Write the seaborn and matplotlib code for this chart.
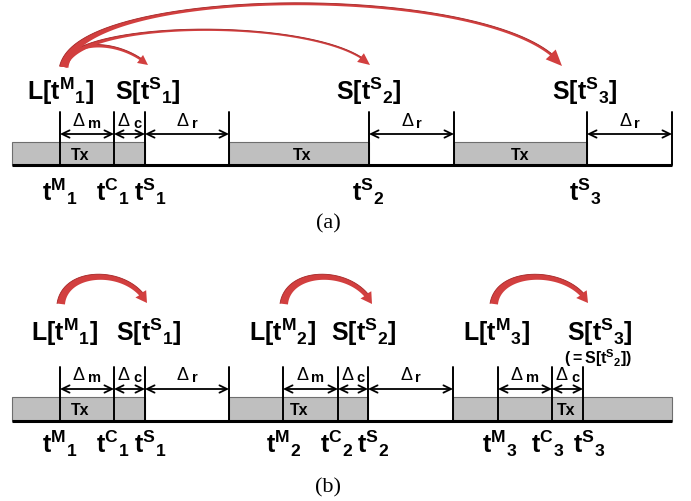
import numpy as np
import matplotlib
matplotlib.use("Agg")
import matplotlib.pyplot as plt
from matplotlib.patches import Rectangle, Polygon
import seaborn as sns

# ---------------------------------------------------------------------------
# Timeline data (horizontal positions on the time axis, in figure pixels)
# ---------------------------------------------------------------------------
AXIS_START, AXIS_END = 12, 672

# (a) one long transaction, several snapshots
a_busy = [(12, 145), (229, 369), (454, 587)]
a_marks = [60, 114, 145, 229, 369, 454, 587, 672]
a_spans = [(60, 114, "m"), (114, 145, "c"), (145, 229, "r"),
           (369, 454, "r"), (587, 672, "r")]
a_tx = [80, 302, 520]
a_times = [("M", "1", 60), ("C", "1", 113), ("S", "1", 150),
           ("S", "2", 368), ("S", "3", 585)]
a_states = [("L", "M", "1", 60), ("S", "S", "1", 148),
            ("S", "S", "2", 369), ("S", "S", "3", 585)]
a_jumps = [((64, 68), (148, 66), 47), ((64, 68), (370, 66), 31),
           ((64, 68), (562, 67), 5)]

# (b) one transaction per snapshot
b_busy = [(12, 145), (229, 368), (453, 672)]
b_marks = [60, 114, 145, 229, 283, 338, 368, 453, 498, 552, 583]
b_spans = [(60, 114, "m"), (114, 145, "c"), (145, 229, "r"),
           (283, 338, "m"), (338, 368, "c"), (368, 453, "r"),
           (498, 552, "m"), (552, 583, "c")]
b_tx = [80, 299, 566]
b_times = [("M", "1", 60), ("C", "1", 113), ("S", "1", 150),
           ("M", "2", 284), ("C", "2", 337), ("S", "2", 373),
           ("M", "3", 500), ("C", "3", 548), ("S", "3", 589)]
b_states = [("L", "M", "1", 64), ("S", "S", "1", 149),
            ("L", "M", "2", 282), ("S", "S", "2", 364),
            ("L", "M", "3", 496), ("S", "S", "3", 600)]
b_jumps = [((61, 305), (147, 304), 278), ((284, 305), (372, 305), 278),
           ((494, 305), (588, 304), 278)]

# ---------------------------------------------------------------------------
sns.set_theme(style="white")
plt.rcParams["font.family"] = ["Liberation Sans", "DejaVu Sans"]
plt.rcParams["text.color"] = "black"
plt.rcParams["mathtext.fontset"] = "custom"
plt.rcParams["mathtext.rm"] = "Liberation Sans:bold"
plt.rcParams["mathtext.it"] = "Liberation Sans:bold"
plt.rcParams["mathtext.bf"] = "Liberation Sans:bold"
plt.rcParams["mathtext.sf"] = "Liberation Sans"
plt.rcParams["mathtext.default"] = "rm"

RED = "#d23f3f"
GREY = "#bfbfbf"

fig = plt.figure(figsize=(6.91, 5.02), dpi=100)
ax = fig.add_axes([0, 0, 1, 1])
ax.set_xlim(0, 691)
ax.set_ylim(502, 0)
ax.axis("off")


def jump_arrow(p0, p3, peak, w0, w1, head_w, head_l, c1=0.04, c2=0.12, lam=45):
    """Curved arrow from p0 to p3 whose top reaches y=peak; the shaft
    starts w0 wide and thins towards w1 over a length scale lam."""
    x0, y0 = p0
    x3, y3 = p3
    dx = x3 - x0
    h = (8 * peak - y0 - y3) / 6.0
    P = np.array([[x0, y0], [x0 + c1 * dx, h], [x3 - c2 * dx, h], [x3, y3]], float)
    t = np.linspace(0, 1, 900)[:, None]
    B = ((1 - t) ** 3 * P[0] + 3 * (1 - t) ** 2 * t * P[1]
         + 3 * (1 - t) * t ** 2 * P[2] + t ** 3 * P[3])
    s = np.concatenate([[0], np.cumsum(np.hypot(*np.diff(B, axis=0).T))])
    keep = s <= s[-1] - head_l
    body = B[keep]
    tang = np.gradient(body, axis=0)
    tang /= np.linalg.norm(tang, axis=1)[:, None]
    nrm = np.stack([-tang[:, 1], tang[:, 0]], axis=1)
    w = (w1 + (w0 - w1) * np.exp(-s[keep] / lam))[:, None] / 2
    left = body + nrm * w
    right = body - nrm * w
    base = body[-1]
    d = P[3] - base
    d /= np.linalg.norm(d)
    n = np.array([-d[1], d[0]])
    pts = np.vstack([left, [base + n * head_w / 2], [P[3]],
                     [base - n * head_w / 2], right[::-1]])
    ax.add_patch(Polygon(pts, closed=True, facecolor=RED, edgecolor="none",
                         zorder=3))
    # darker lower rim for a little depth
    ax.plot(right[:, 0], right[:, 1], color="#a52626", lw=0.6, zorder=3)


def label_t(sup, sub):
    return "$t^{" + sup + "}{}_{" + sub + "}$"


def label_state(p, sup, sub):
    return "$" + p + "[t^{" + sup + "}{}_{" + sub + "}]$"


def draw_timeline(busy, marks, spans, tx, times, states, jumps,
                  bar_top, bar_bot, mark_top, span_y, delta_base,
                  state_base, time_base, jump_style):
    # busy (grey) stretches of the time axis
    for x0, x1 in busy:
        ax.add_patch(Rectangle((x0, bar_top), x1 - x0, bar_bot - bar_top,
                               facecolor=GREY, edgecolor="#6e6e6e", lw=0.8,
                               zorder=1))
    ax.plot([AXIS_START, AXIS_END], [bar_bot, bar_bot], color="black",
            lw=2.2, solid_capstyle="butt", zorder=4)
    # instants
    for x in marks:
        ax.plot([x, x], [mark_top, bar_bot], color="black", lw=1.4, zorder=4)
    # interval arrows and their delta labels
    r = fig.canvas.get_renderer()
    for x0, x1, sub in spans:
        ax.annotate("", xy=(x1, span_y), xytext=(x0, span_y),
                    arrowprops=dict(arrowstyle="<->,head_length=0.45,head_width=0.22",
                                    lw=1.3, color="black", shrinkA=0, shrinkB=0),
                    zorder=5)
        cx = (x0 + x1) / 2
        td = ax.text(cx, delta_base, "Δ", fontsize=13, fontweight="normal",
                     ha="right", va="baseline", zorder=5)
        ts = ax.text(cx, delta_base + 2.5, sub, fontsize=10.5, fontweight="bold",
                     ha="left", va="baseline", zorder=5)
        wd = td.get_window_extent(r).width
        ws = ts.get_window_extent(r).width
        gap = 3
        left = cx - (wd + gap + ws) / 2
        td.set_x(left + wd)
        ts.set_x(left + wd + gap)
    for x in tx:
        ax.text(x, (bar_top + bar_bot) / 2 + 1, "Tx", fontsize=11.5,
                fontweight="bold", ha="center", va="center", zorder=5)
    for sup, sub, x in times:
        ax.text(x, time_base, label_t(sup, sub), fontsize=18,
                ha="center", va="baseline", zorder=5)
    for p, sup, sub, x in states:
        ax.text(x, state_base, label_state(p, sup, sub), fontsize=18,
                ha="center", va="baseline", zorder=5)
    for (p0, p3, peak), st in zip(jumps, jump_style):
        jump_arrow(p0, p3, peak, **st)


draw_timeline(a_busy, a_marks, a_spans, a_tx, a_times, a_states, a_jumps,
              bar_top=143, bar_bot=166, mark_top=113, span_y=135,
              delta_base=126, state_base=100, time_base=201,
              jump_style=[dict(w0=6, w1=2.0, head_w=10, head_l=10, c1=0.05,
                               c2=0.35, lam=30),
                          dict(w0=7, w1=1.7, head_w=11, head_l=12, c1=0.03,
                               c2=0.15, lam=40),
                          dict(w0=9, w1=2.4, head_w=14, head_l=16, c1=0.03,
                               c2=0.12, lam=50)])

draw_timeline(b_busy, b_marks, b_spans, b_tx, b_times, b_states, b_jumps,
              bar_top=398, bar_bot=422, mark_top=368, span_y=390,
              delta_base=380, state_base=341, time_base=453,
              jump_style=[dict(w0=8, w1=3.0, head_w=13, head_l=11, c1=0.05,
                               c2=0.2, lam=80)] * 3)

ax.text(598, 364, "$({=}S[t^{S}{}_{2}])$", fontsize=11.5, ha="center",
        va="baseline", zorder=5)

ax.text(328, 224, "(a)", family="Liberation Serif", fontsize=16,
        ha="center", va="center")
ax.text(328, 488, "(b)", family="Liberation Serif", fontsize=16,
        ha="center", va="center")

fig.savefig("out.png", dpi=100)
